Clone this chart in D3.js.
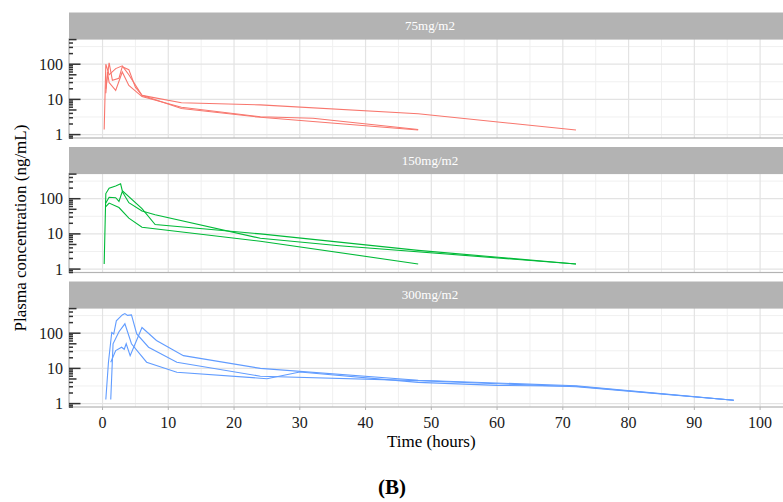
<!DOCTYPE html>
<html>
<head>
<meta charset="utf-8">
<script src="https://cdn.jsdelivr.net/npm/d3@7"></script>
<style>
  body { margin: 0; background: #fff; }
  text { font-family: "Liberation Serif", "Times New Roman", serif; }
</style>
</head>
<body>
<div id="chart"></div>
<script>
// dose groups (facets)
const doses  = ["75mg/m2", "150mg/m2", "300mg/m2"];
const colors = ["#F8766D", "#00BA38", "#619CFF"];

// sampling times (h) and concentrations (ng/mL), 3 patients per dose
const time75 = [
  [0.25, 0.5, 1, 2, 3, 4, 6, 12, 24, 48, 72],
  [0.5, 1, 1.5, 2.5, 3, 4, 5, 6, 12, 24, 48],
  [0.5, 0.75, 1, 2, 3, 4, 6, 12, 24, 32, 48]
];
const conc75 = [
  [1.4, 100, 50, 75, 90, 50, 13, 8, 7, 3.9, 1.35],
  [20, 110, 35, 40, 85, 70, 22, 13, 5.5, 3.1, 1.35],
  [15, 60, 30, 18, 60, 25, 12, 6, 3.2, 2.9, 1.4]
];
const time150 = [
  [0.25, 0.5, 1, 2, 2.75, 3, 6, 8, 24, 48, 72],
  [0.5, 1, 2, 2.5, 3, 4, 6, 8, 24, 36, 72],
  [0.5, 1, 2.5, 4, 6, 24, 48]
];
const conc150 = [
  [1.4, 140, 200, 230, 265, 170, 52, 18.5, 10, 3.4, 1.4],
  [75, 110, 107, 84, 160, 77, 45, 35, 7.5, 4.6, 1.4],
  [60, 75, 56, 28, 15.5, 6.2, 1.4]
];
const time300 = [
  [0.5, 0.9, 1.4, 1.7, 2.1, 3, 3.4, 3.8, 4.4, 5.2, 7, 11.3, 24, 48, 72, 96],
  [1.25, 1.6, 2.5, 3.4, 4.4, 6.7, 11.3, 25, 30, 48, 60, 72, 96],
  [1.25, 2, 2.9, 3.3, 3.6, 4.2, 6, 8.2, 12.3, 24, 48, 72, 96]
];
const conc300 = [
  [1.3, 15, 105, 95, 225, 330, 360, 320, 330, 95, 40, 15, 6.0, 4.5, 3.0, 1.25],
  [1.3, 50, 110, 185, 50, 15, 7.8, 5.1, 7.9, 4.0, 3.3, 3.1, 1.25],
  [15, 32, 40, 35, 50, 23, 145, 62, 23, 10, 4.6, 3.2, 1.25]
];

const xTicks = [0, 10, 20, 30, 40, 50, 60, 70, 80, 90, 100];
const yTicks = [1, 10, 100];

const times = [time75, time150, time300];
const concs = [conc75, conc150, conc300];

const width = 783, height = 502;
const left = 69, right = 791;
const stripH = 26.5, plotH = 99, panelStep = 134.5, top0 = 12.5;

const svg = d3.select("#chart")
              .append("svg")
              .attr("width", width)
              .attr("height", height);

const x = d3.scaleLinear()
            .domain([-5.1, 104.7])
            .range([left, right]);

doses.forEach((dose, i) => {
    const stripTop = top0 + i * panelStep;
    const pTop = stripTop + stripH;
    const pBot = pTop + plotH;

    const y = d3.scaleLog()
                .domain([0.8, 520])
                .range([pBot, pTop]);

    const g = svg.append("g");

    // minor grid
    const xMinor = d3.range(-5, 105, 10);
    g.selectAll(".vmin")
     .data(xMinor)
     .enter()
     .append("line")
     .attr("x1", d => x(d)).attr("x2", d => x(d))
     .attr("y1", pTop).attr("y2", pBot)
     .attr("stroke", "#f0f0f0")
     .attr("stroke-width", 1);
    g.selectAll(".hmin")
     .data([Math.sqrt(10), Math.sqrt(1000), Math.sqrt(100000)])
     .enter()
     .append("line")
     .attr("x1", left).attr("x2", right)
     .attr("y1", d => y(d)).attr("y2", d => y(d))
     .attr("stroke", "#f0f0f0")
     .attr("stroke-width", 1);

    // major grid
    g.selectAll(".vmaj")
     .data(xTicks)
     .enter()
     .append("line")
     .attr("x1", d => x(d)).attr("x2", d => x(d))
     .attr("y1", pTop).attr("y2", pBot)
     .attr("stroke", "#e3e3e3")
     .attr("stroke-width", 1.2);
    g.selectAll(".hmaj")
     .data(yTicks)
     .enter()
     .append("line")
     .attr("x1", left).attr("x2", right)
     .attr("y1", d => y(d)).attr("y2", d => y(d))
     .attr("stroke", "#e3e3e3")
     .attr("stroke-width", 1.2);

    // lines
    const line = d3.line()
                   .x(d => x(d[0]))
                   .y(d => y(d[1]));
    times[i].forEach((ts, j) => {
        const pts = ts.map((t, k) => [t, concs[i][j][k]]);
        g.append("path")
         .datum(pts)
         .attr("fill", "none")
         .attr("stroke", colors[i])
         .attr("stroke-width", 1.1)
         .attr("d", line);
    });

    // panel border
    g.append("rect")
     .attr("x", left).attr("y", pTop)
     .attr("width", right - left).attr("height", plotH)
     .attr("fill", "none")
     .attr("stroke", "#b3b3b3")
     .attr("stroke-width", 1.2);

    // strip
    g.append("rect")
     .attr("x", left).attr("y", stripTop)
     .attr("width", right - left).attr("height", stripH)
     .attr("fill", "#b3b3b3");
    g.append("text")
     .attr("x", (left + right) / 2)
     .attr("y", stripTop + stripH / 2)
     .attr("dy", "0.35em")
     .attr("text-anchor", "middle")
     .attr("fill", "#ffffff")
     .attr("font-size", "13px")
     .text(dose);

    // log ticks (inside, left side)
    const logTicks = [];
    [0.1, 1, 10, 100].forEach(base => {
        d3.range(1, 10).forEach(m => {
            const v = base * m;
            if (v >= 0.8 && v <= 520) logTicks.push({ v: v, m: m });
        });
    });
    g.selectAll(".lt")
     .data(logTicks)
     .enter()
     .append("line")
     .attr("x1", left)
     .attr("x2", d => left + (d.m === 1 ? 11.5 : d.m === 5 ? 7.5 : 4))
     .attr("y1", d => y(d.v)).attr("y2", d => y(d.v))
     .attr("stroke", "#333")
     .attr("stroke-width", 1.5);

    // y tick labels
    g.selectAll(".yl")
     .data(yTicks)
     .enter()
     .append("text")
     .attr("x", left - 6)
     .attr("y", d => y(d))
     .attr("dy", "0.35em")
     .attr("text-anchor", "end")
     .attr("font-size", "16px")
     .attr("fill", "#1a1a1a")
     .text(d => d);

    if (i === doses.length - 1) {
        g.selectAll(".xt")
         .data(xTicks)
         .enter()
         .append("line")
         .attr("x1", d => x(d)).attr("x2", d => x(d))
         .attr("y1", pBot).attr("y2", pBot + 3)
         .attr("stroke", "#b3b3b3");
        g.selectAll(".xl")
         .data(xTicks)
         .enter()
         .append("text")
         .attr("x", d => x(d))
         .attr("y", pBot + 15)
         .attr("dy", "0.35em")
         .attr("text-anchor", "middle")
         .attr("font-size", "16px")
         .attr("fill", "#1a1a1a")
         .text(d => d);
    }
});

svg.append("text")
   .attr("x", x(50))
   .attr("y", 441)
   .attr("dy", "0.35em")
   .attr("text-anchor", "middle")
   .attr("font-size", "17px")
   .attr("fill", "#000")
   .text("Time (hours)");

svg.append("text")
   .attr("transform", "translate(20, 228) rotate(-90)")
   .attr("dy", "0.35em")
   .attr("text-anchor", "middle")
   .attr("font-size", "17px")
   .attr("fill", "#000")
   .text("Plasma concentration (ng/mL)");

svg.append("text")
   .attr("x", 392)
   .attr("y", 487)
   .attr("dy", "0.35em")
   .attr("text-anchor", "middle")
   .attr("font-size", "21px")
   .attr("font-weight", "bold")
   .attr("fill", "#000")
   .text("(B)");
</script>
</body>
</html>
